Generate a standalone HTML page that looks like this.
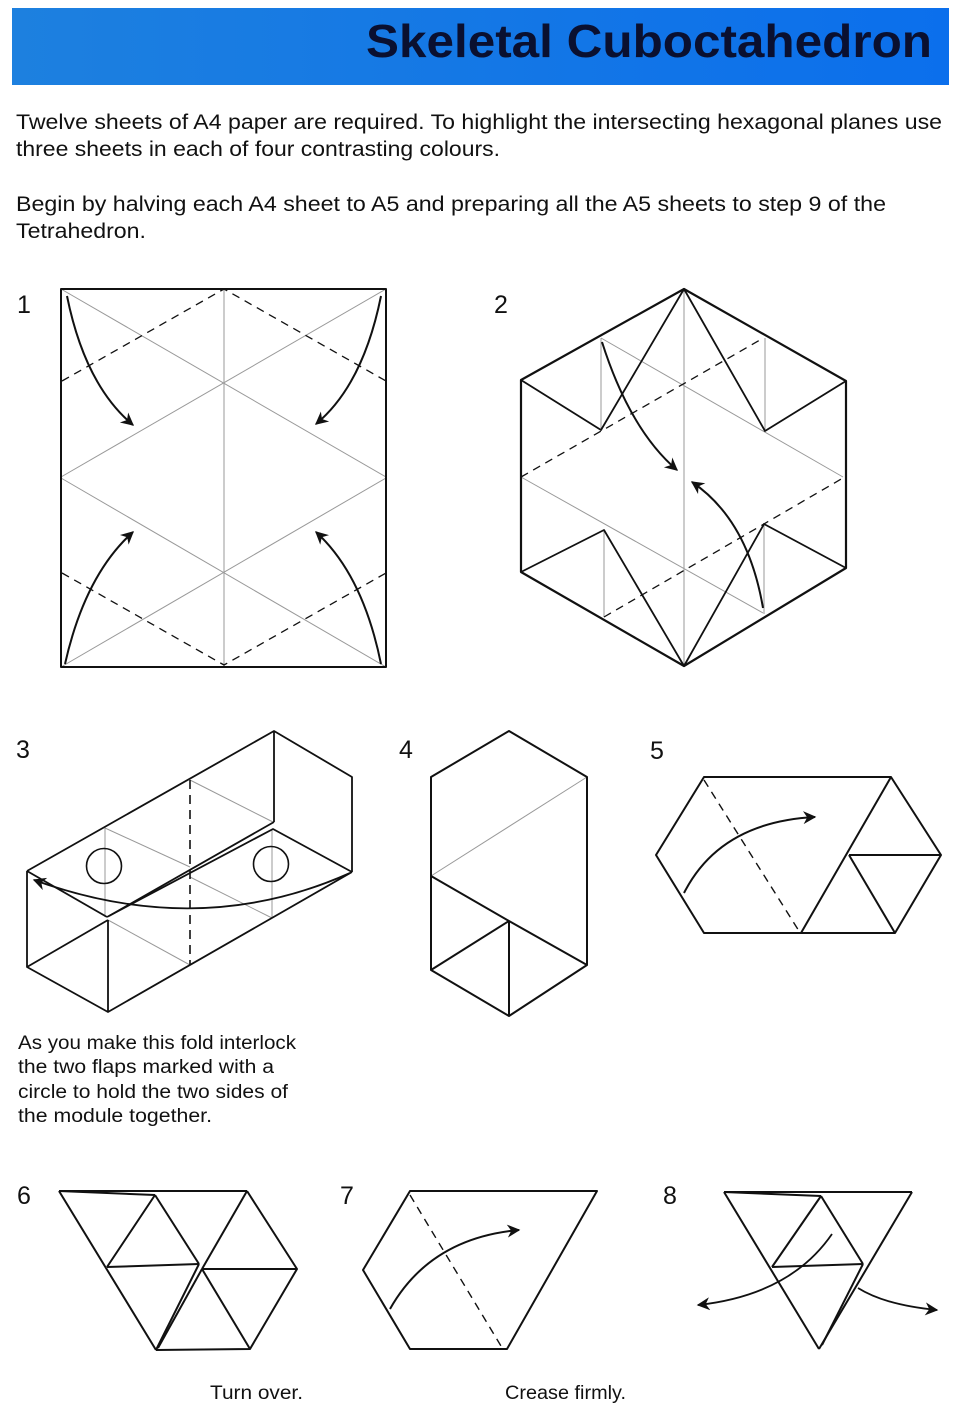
<!DOCTYPE html>
<html><head><meta charset="utf-8"><style>
html,body{margin:0;padding:0;background:#fff}
svg{display:block}
text{font-family:"Liberation Sans",sans-serif;fill:#111}
</style></head><body>
<svg width="960" height="1422" viewBox="0 0 960 1422" xmlns="http://www.w3.org/2000/svg">
<defs>
<linearGradient id="bg" x1="0" x2="1" y1="0" y2="0">
<stop offset="0" stop-color="#1d80df"/><stop offset="1" stop-color="#0b6fec"/>
</linearGradient>
<marker id="ah" viewBox="0 0 10 10" refX="9" refY="5" markerWidth="15" markerHeight="13" orient="auto-start-reverse" markerUnits="userSpaceOnUse">
<path d="M0,0 L10,5 L0,10 L3,5 Z" fill="#111"/>
</marker>
</defs>
<rect x="12" y="8" width="937" height="77" fill="url(#bg)"/>
<text x="932" y="57" text-anchor="end" font-size="46" font-weight="bold" style="fill:#0a1030" textLength="566" lengthAdjust="spacingAndGlyphs">Skeletal Cuboctahedron</text>

<g font-size="21">
<text x="16" y="129" textLength="926" lengthAdjust="spacingAndGlyphs">Twelve sheets of A4 paper are required. To highlight the intersecting hexagonal planes use</text>
<text x="16" y="156" textLength="484" lengthAdjust="spacingAndGlyphs">three sheets in each of four contrasting colours.</text>
<text x="16" y="211" textLength="870" lengthAdjust="spacingAndGlyphs">Begin by halving each A4 sheet to A5 and preparing all the A5 sheets to step 9 of the</text>
<text x="16" y="238" textLength="130" lengthAdjust="spacingAndGlyphs">Tetrahedron.</text>
</g>

<g font-size="25">
<text x="17" y="313">1</text><text x="494" y="313">2</text>
<text x="16" y="758">3</text><text x="399" y="758">4</text><text x="650" y="759">5</text>
<text x="17" y="1204">6</text><text x="340" y="1204">7</text><text x="663" y="1204">8</text>
</g>

<g fill="none" stroke="#111" stroke-linejoin="round">
<!-- Diagram 1 -->
<g stroke="#999" stroke-width="1">
<line x1="61" y1="289" x2="386" y2="477"/><line x1="386" y1="289" x2="61" y2="477"/>
<line x1="61" y1="478" x2="386" y2="667"/><line x1="386" y1="478" x2="61" y2="667"/>
<line x1="224" y1="289" x2="224" y2="667"/>
</g>
<g stroke-width="1.3" stroke-dasharray="8,6">
<polyline points="62,381 224,289 386,381"/>
<polyline points="62,573 224,665 386,573"/>
</g>
<rect x="61" y="289" width="325" height="378" stroke-width="2"/>
<g stroke-width="2" marker-end="url(#ah)">
<path d="M67,296 Q85,385 133,425"/>
<path d="M381,296 Q363,385 316,424"/>
<path d="M65,664 Q85,575 133,532"/>
<path d="M381,664 Q363,575 316,532"/>
</g>

<!-- Diagram 2 -->
<g stroke="#999" stroke-width="1">
<line x1="684" y1="289" x2="684" y2="666"/>
<line x1="601" y1="338" x2="601" y2="430"/><line x1="765" y1="338" x2="765" y2="431"/>
<line x1="604" y1="530" x2="604" y2="617"/><line x1="764" y1="524" x2="764" y2="614"/>
<line x1="601" y1="338" x2="843" y2="477"/><line x1="521" y1="477" x2="763" y2="613"/>
</g>
<g stroke-width="1.3" stroke-dasharray="8,6">
<line x1="521" y1="477" x2="760" y2="340"/><line x1="604" y1="617" x2="843" y2="478"/>
</g>
<polygon points="684,289 846,381 846,568 684,666 521,572 521,380" stroke-width="2.2"/>
<g stroke-width="1.8">
<polyline points="521,380 601,430 684,289 765,431 846,381"/>
<polyline points="521,572 604,530 684,666 764,524 846,568"/>
</g>
<g stroke-width="2" marker-end="url(#ah)">
<path d="M602,342 Q630,430 677,470"/>
<path d="M763,608 Q748,520 692,482"/>
</g>

<!-- Diagram 3 -->
<g stroke="#999" stroke-width="1">
<line x1="105" y1="828" x2="105" y2="917"/>
<line x1="105" y1="828" x2="190" y2="867"/>
<line x1="190" y1="780" x2="273" y2="822"/>
<line x1="190" y1="877" x2="272" y2="918"/>
<line x1="108" y1="920" x2="190" y2="965"/>
<line x1="272" y1="830" x2="272" y2="918"/>
</g>
<line x1="190" y1="780" x2="190" y2="965" stroke-width="1.6" stroke-dasharray="9,6"/>
<g stroke-width="1.8">
<polyline points="27,871 274,731 352,777 352,872"/>
<line x1="274" y1="731" x2="274" y2="822"/>
<line x1="274" y1="822" x2="109" y2="916"/>
<polyline points="107,917 273,829 352,872"/>
<line x1="27" y1="871" x2="107" y2="917"/>
<polyline points="27,871 27,967 108,1012 352,872"/>
<line x1="27" y1="967" x2="108" y2="920"/>
<line x1="108" y1="920" x2="108" y2="1012"/>
</g>
<circle cx="104" cy="866" r="17.5" stroke-width="1.6"/>
<circle cx="271" cy="864" r="17.5" stroke-width="1.6"/>
<path d="M350,873 Q200,940 34,880" stroke-width="1.8" marker-end="url(#ah)"/>

<!-- Diagram 4 -->
<line x1="431" y1="876" x2="587" y2="777" stroke="#999" stroke-width="1"/>
<polygon points="509,731 587,777 587,965 509,1016 431,970 431,777" stroke-width="2"/>
<g stroke-width="2">
<polyline points="431,876 509,921 587,965"/>
<line x1="509" y1="921" x2="509" y2="1016"/>
<line x1="431" y1="970" x2="509" y2="921"/>
</g>

<!-- Diagram 5 -->
<polygon points="704,777 891,777 941,855 895,933 704,933 656,855" stroke-width="2"/>
<g stroke-width="2">
<line x1="801" y1="933" x2="891" y2="777"/>
<line x1="849" y1="855" x2="941" y2="855"/>
<line x1="849" y1="855" x2="895" y2="933"/>
</g>
<line x1="704" y1="780" x2="799" y2="931" stroke-width="1.4" stroke-dasharray="8,6"/>
<path d="M684,893 Q720,822 815,817" stroke-width="2" marker-end="url(#ah)"/>

<!-- Diagram 6 -->
<g stroke-width="2">
<line x1="59" y1="1191" x2="247" y2="1191"/>
<line x1="59" y1="1191" x2="155" y2="1195"/>
<line x1="59" y1="1191" x2="156" y2="1350"/>
<line x1="155" y1="1195" x2="107" y2="1267"/>
<line x1="155" y1="1195" x2="199" y2="1264"/>
<line x1="107" y1="1267" x2="199" y2="1264"/>
<line x1="199" y1="1264" x2="156" y2="1350"/>
<polyline points="247,1191 297,1269 250,1349 156,1350"/>
<line x1="247" y1="1191" x2="202" y2="1269"/>
<line x1="202" y1="1269" x2="297" y2="1269"/>
<line x1="202" y1="1269" x2="250" y2="1349"/>
<line x1="202" y1="1269" x2="158" y2="1348"/>
</g>

<!-- Diagram 7 -->
<polygon points="410,1191 597,1191 507,1349 410,1349 363,1270" stroke-width="2"/>
<line x1="410" y1="1195" x2="501" y2="1346" stroke-width="1.4" stroke-dasharray="8,6"/>
<path d="M390,1309 Q430,1238 519,1230" stroke-width="2" marker-end="url(#ah)"/>

<!-- Diagram 8 -->
<g stroke-width="2">
<line x1="724" y1="1192" x2="912" y2="1192"/>
<line x1="724" y1="1192" x2="819" y2="1349"/>
<line x1="912" y1="1192" x2="819" y2="1349"/>
<line x1="724" y1="1192" x2="821" y2="1196"/>
<line x1="821" y1="1196" x2="772" y2="1267"/>
<line x1="821" y1="1196" x2="863" y2="1264"/>
<line x1="772" y1="1267" x2="863" y2="1264"/>
<line x1="863" y1="1264" x2="822" y2="1345"/>
</g>
<path d="M832,1234 Q790,1295 698,1305" stroke-width="1.8" marker-end="url(#ah)"/>
<path d="M858,1288 Q885,1305 937,1310" stroke-width="1.8" marker-end="url(#ah)"/>
</g>

<g font-size="19">
<text x="18" y="1049" textLength="278" lengthAdjust="spacingAndGlyphs">As you make this fold interlock</text>
<text x="18" y="1073" textLength="256" lengthAdjust="spacingAndGlyphs">the two flaps marked with a</text>
<text x="18" y="1098" textLength="270" lengthAdjust="spacingAndGlyphs">circle to hold the two sides of</text>
<text x="18" y="1122" textLength="194" lengthAdjust="spacingAndGlyphs">the module together.</text>
<text x="210" y="1399" textLength="93" lengthAdjust="spacingAndGlyphs">Turn over.</text>
<text x="505" y="1399" textLength="121" lengthAdjust="spacingAndGlyphs">Crease firmly.</text>
</g>
</svg>
</body></html>
